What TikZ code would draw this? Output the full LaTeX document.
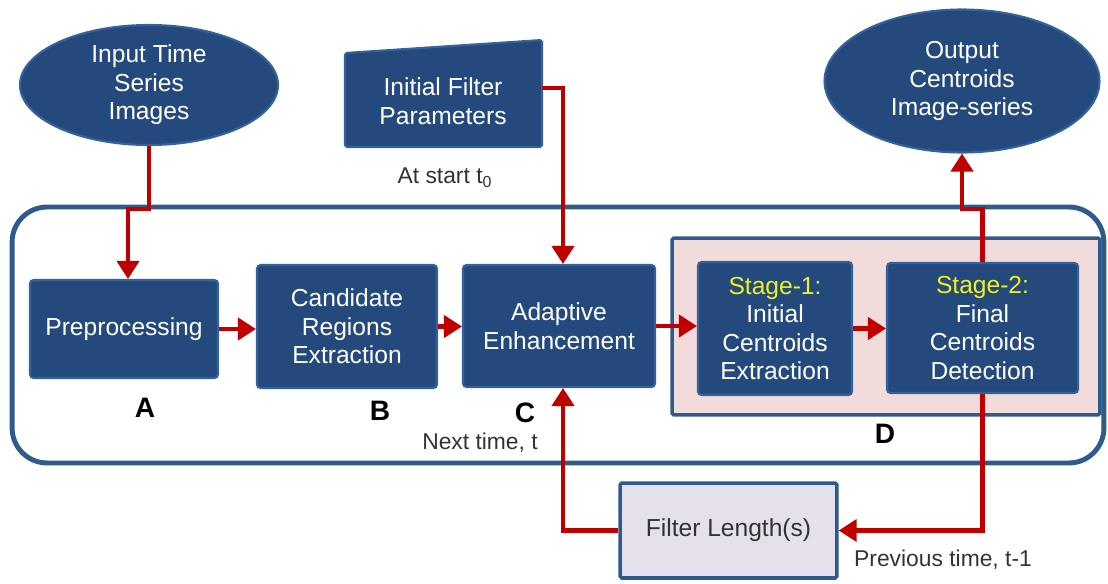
\documentclass[tikz,border=0pt]{standalone}
\usepackage{fontspec}
\setmainfont{Liberation Sans}
\usetikzlibrary{shapes.geometric, arrows.meta, positioning}
\definecolor{blockblue}{HTML}{244A7D}
\definecolor{blockedge}{HTML}{36629B}
\definecolor{frameblue}{HTML}{2F5B8C}
\definecolor{flowred}{HTML}{C00000}
\definecolor{stagepink}{HTML}{F2DCDB}
\definecolor{stageyellow}{HTML}{EEEE22}
\definecolor{filtlav}{HTML}{E5E0EC}
\definecolor{notegray}{HTML}{333333}

\begin{document}
\begin{tikzpicture}[
    x=0.02cm, y=-0.02cm,
    every node/.style={font=\fontsize{14}{16.2}\selectfont},
    >={Triangle[width=0.44cm,length=0.36cm]},
    block/.style={draw=blockedge, fill=blockblue, line width=1.2pt, rounded corners=2pt,
                  text=white, align=center, inner sep=0pt},
    oval/.style={ellipse, draw=blockedge, fill=blockblue, line width=1.2pt,
                 text=white, align=center, inner sep=0pt},
    flow/.style={->, draw=flowred, line width=2.3pt},
    tag/.style={font=\fontsize{16}{18}\selectfont\bfseries},
    note/.style={text=notegray, font=\fontsize{13}{15}\selectfont},
]
\useasboundingbox (0,0) rectangle (1108,584);

% === Outer loop frame ===
\node[draw=frameblue, line width=2.8pt, rounded corners=0.7cm, minimum width=21.84cm, minimum height=5.12cm]
      (loop) at (558,335) {};

% Stage group D
\node[draw=frameblue, fill=stagepink, line width=2pt, rounded corners=1pt, minimum width=8.56cm, minimum height=3.54cm]
      (stages) at (886,326.5) {};

% === Inputs and outputs ===
\node[oval, minimum width=5.16cm, minimum height=2.4cm] (input) at (149,85) {Input Time\\Series\\Images};
\node[oval, minimum width=5.5cm, minimum height=2.86cm] (output) at (962,81) {Output\\Centroids\\Image-series};

% Manual input shape
\filldraw[draw=blockedge, fill=blockblue, line width=1.2pt, rounded corners=1pt]
      (345,53) -- (542,40) -- (542,147) -- (345,147) -- cycle;
\node[text=white, align=center, minimum width=3.94cm] (params) at (443,101) {Initial Filter\\Parameters};
\node[note] (startT) at (445,178) {At start t\textsubscript{0}};

% === Processing blocks ===
\node[block, minimum width=3.76cm, minimum height=1.96cm] (pre) at (124,329) {Preprocessing};
\node[block, minimum width=3.6cm, minimum height=2.46cm] (cand) at (347,326.5) {Candidate\\Regions\\Extraction};
\node[block, minimum width=3.84cm, minimum height=2.44cm] (adapt) at (559,326) {Adaptive\\Enhancement};
\node[block, minimum width=3.08cm, minimum height=2.66cm] (st1) at (775,328.5)
      {\textcolor{stageyellow}{Stage-1:}\\Initial\\Centroids\\Extraction};
\node[block, minimum width=3.82cm, minimum height=2.6cm] (st2) at (982.5,328)
      {\textcolor{stageyellow}{Stage-2:}\\Final\\Centroids\\Detection};

% Feedback block
\node[draw=frameblue, fill=filtlav, line width=2pt, rounded corners=1pt, text=notegray,
      minimum width=4.34cm, minimum height=1.9cm] (filt) at (728.5,530.5) {Filter Length(s)};

% === Labels ===
\node[tag] (labA) at (145,408) {A};
\node[tag] (labB) at (380,411) {B};
\node[tag] (labC) at (525,413) {C};
\node[tag] (labD) at (885,434) {D};
\node[note] (nextT) at (480,443) {Next time, t};
\node[note] (prevT) at (943,560) {Previous time, t-1};

% === Flow arrows ===
\draw[flow] (input.south) -- ++(0,63) -| ([xshift=0.08cm]pre.north);
\draw[flow] (pre.east) -- (pre.east -| cand.west);
\draw[flow] (cand.east) -- (cand.east -| adapt.west);
\draw[flow] (adapt.east) -- (adapt.east -| st1.west);
\draw[flow] (st1.east) -- (st1.east -| st2.west);
\draw[flow] (st2.north) -- ++(0,-53) -| (output.south);
\draw[flow] ([yshift=0.26cm]params.east) -| ([xshift=0.08cm]adapt.north);
\draw[flow] (st2.south) |- (filt.east);
\draw[flow] (filt.west) -| ([xshift=0.08cm]adapt.south);

\end{tikzpicture}
\end{document}
